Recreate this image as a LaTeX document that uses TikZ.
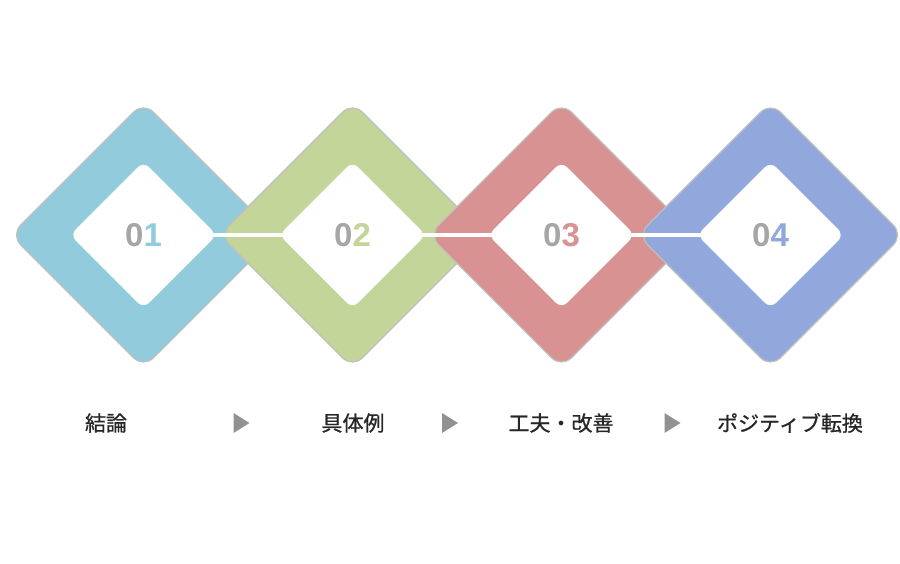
\documentclass[tikz,border=0pt]{standalone}
\usepackage{fontspec}
\setmainfont{Liberation Sans}
\newfontfamily\jpfont[FakeBold=0.8]{Noto Sans CJK JP}
\usepackage{tikz}
\usetikzlibrary{shapes.geometric}

\definecolor{cblue}{RGB}{146,203,220}
\definecolor{cgreen}{RGB}{195,213,153}
\definecolor{cred}{RGB}{216,146,146}
\definecolor{cpurple}{RGB}{146,167,220}
\definecolor{cdigit}{RGB}{166,166,166}
\definecolor{carrow}{RGB}{145,145,145}

\begin{document}
\begin{tikzpicture}[x=1pt, y=1pt,
  outer/.style={diamond, aspect=1, inner sep=0pt, minimum width=266pt, minimum height=266pt,
    rounded corners=14pt, draw=black!25, line width=1.2pt},
  inner/.style={diamond, aspect=1, inner sep=0pt, minimum width=147pt, minimum height=147pt,
    rounded corners=8pt, fill=white, text=cdigit, font=\bfseries\fontsize{33}{33}\selectfont},
  link/.style={draw=black!20, line width=0.6pt, double=white, double distance=3.6pt},
  lbl/.style={font=\jpfont\fontsize{21}{21}\selectfont, text=black!85}]

  \useasboundingbox (0,0) rectangle (900,-563);

  \newcommand\DX{209}

  % outer rings, later ones lie on top
  \node[outer, fill=cblue]   (out1) at (143.5+0*\DX, -235) {};
  \node[outer, fill=cgreen]  (out2) at (143.5+1*\DX, -235) {};
  \node[outer, fill=cred]    (out3) at (143.5+2*\DX, -235) {};
  \node[outer, fill=cpurple] (out4) at (143.5+3*\DX, -235) {};

  % ends of the white bars, hidden under the inner diamonds
  \coordinate (r1) at ([xshift=66pt]out1.center);
  \coordinate (l2) at ([xshift=-66pt]out2.center);
  \coordinate (r2) at ([xshift=66pt]out2.center);
  \coordinate (l3) at ([xshift=-66pt]out3.center);
  \coordinate (r3) at ([xshift=66pt]out3.center);
  \coordinate (l4) at ([xshift=-66pt]out4.center);

  \draw[link] (r1) -- (l2); % 1-2
  \draw[link] (r2) -- (l3); % 2-3
  \draw[link] (r3) -- (l4); % 3-4

  % inner white diamonds with numbers
  \node[inner] (in1) at (out1.center) {0\textcolor{cblue}{1}};
  \node[inner] (in2) at (out2.center) {0\textcolor{cgreen}{2}};
  \node[inner] (in3) at (out3.center) {0\textcolor{cred}{3}};
  \node[inner] (in4) at (out4.center) {0\textcolor{cpurple}{4}};

  % labels
  \node[lbl] (t1) at (106, -423) {結論};
  \node[lbl] (t2) at (353, -423) {具体例};
  \node[lbl] (t3) at (561, -423) {工夫・改善};
  \node[lbl] (t4) at (790, -423) {ポジティブ転換};

  \coordinate (a1) at (241.5, -423);
  \coordinate (a2) at (450, -423);
  \coordinate (a3) at (672.5, -423);
  \fill[carrow] (a1) ++(-8,10) -- ++(16,-10) -- ++(-16,-10) -- cycle;
  \fill[carrow] (a2) ++(-8,10) -- ++(16,-10) -- ++(-16,-10) -- cycle;
  \fill[carrow] (a3) ++(-8,10) -- ++(16,-10) -- ++(-16,-10) -- cycle;

\end{tikzpicture}
\end{document}
